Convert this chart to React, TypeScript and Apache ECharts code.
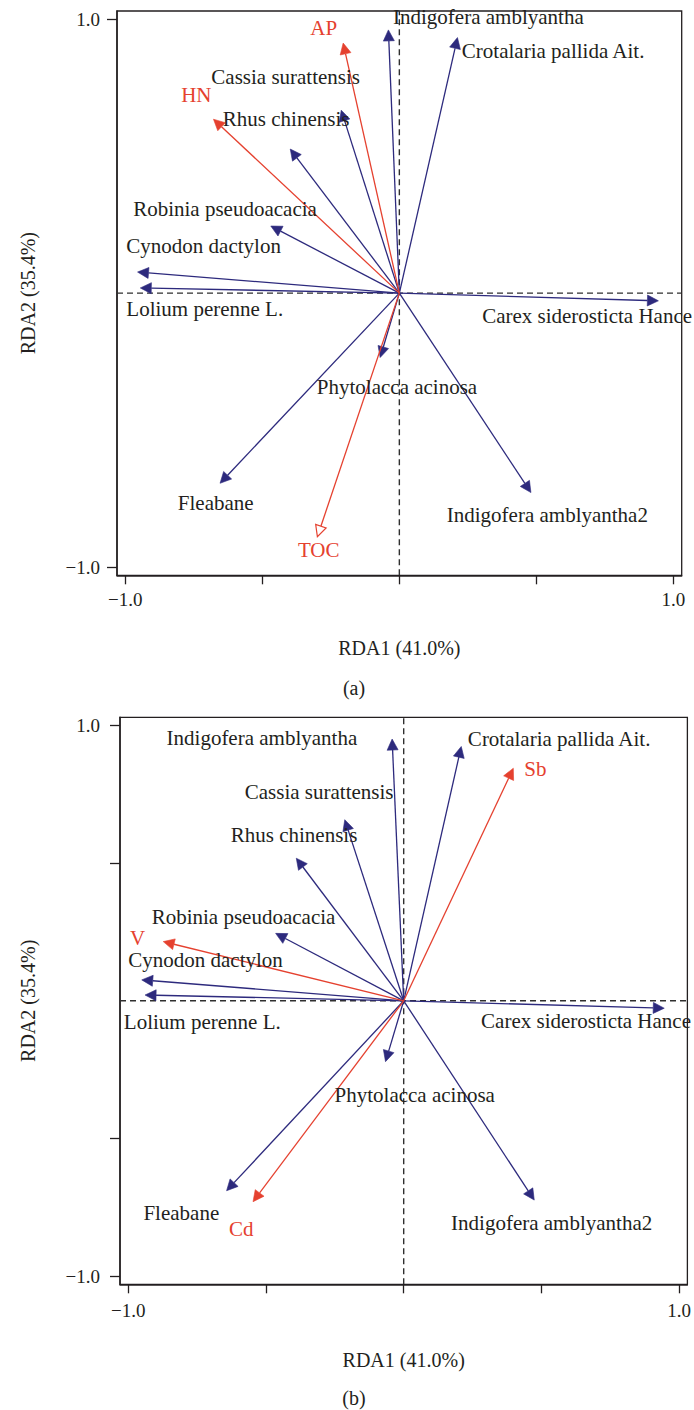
import React, { useEffect, useRef } from 'react';
import * as echarts from 'echarts';

// ---------- data ----------
const species = [
  'Indigofera amblyantha',
  'Crotalaria pallida Ait.',
  'Cassia surattensis',
  'Rhus chinensis',
  'Robinia pseudoacacia',
  'Cynodon dactylon',
  'Lolium perenne L.',
  'Carex siderosticta Hance',
  'Phytolacca acinosa',
  'Indigofera amblyantha2',
  'Fleabane',
];
// panel (a) species scores
const speciesRDA1A = [-0.04, 0.212, -0.212, -0.398, -0.469, -0.955, -0.945, 0.945, -0.07, 0.48, -0.654];
const speciesRDA2A = [0.961, 0.933, 0.668, 0.526, 0.245, 0.077, 0.019, -0.028, -0.235, -0.728, -0.694];
// panel (b) species scores
const speciesRDA1B = [-0.042, 0.209, -0.214, -0.39, -0.465, -0.951, -0.939, 0.946, -0.066, 0.474, -0.643];
const speciesRDA2B = [0.951, 0.924, 0.658, 0.518, 0.245, 0.076, 0.021, -0.027, -0.221, -0.724, -0.69];

// environmental factors
const envA = ['AP', 'HN', 'TOC'];
const envRDA1A = [-0.205, -0.678, -0.299];
const envRDA2A = [0.913, 0.635, -0.889];
const envB = ['Sb', 'V', 'Cd'];
const envRDA1B = [0.398, -0.873, -0.547];
const envRDA2B = [0.845, 0.215, -0.73];
const openHeadFactors = ['TOC'];

const axisTickValues = [-1, -0.5, 0, 0.5, 1];
const axisLabelValues = [-1, 1];
const yTickValuesA = [-1, 1];
const yTickValuesB = [-1, -0.5, 0.5, 1];
const xTitle = 'RDA1 (41.0%)';
const yTitle = 'RDA2 (35.4%)';
const captions = ['(a)', '(b)'];

// ---------- layout (label anchors, data units: left edge / vertical middle) ----------
const speciesLabelAtA = [
  [-0.023, 1.008], [0.228, 0.883], [-0.686, 0.788], [-0.644, 0.635], [-0.971, 0.306],
  [-0.996, 0.171], [-0.996, -0.059], [0.302, -0.084], [-0.301, -0.344], [0.173, -0.811], [-0.808, -0.767],
];
const envLabelAtA = [[-0.325, 0.967], [-0.796, 0.724], [-0.37, -0.939]];
const speciesLabelAtB = [
  [-0.861, 0.954], [0.233, 0.951], [-0.577, 0.76], [-0.628, 0.603], [-0.915, 0.306],
  [-1.0, 0.148], [-1.016, -0.076], [0.281, -0.072], [-0.251, -0.343], [0.172, -0.809], [-0.945, -0.772],
];
const envLabelAtB = [[0.438, 0.842], [-0.994, 0.227], [-0.634, -0.83]];

const LIM = 1.03;
const BLUE = '#2d2a7d';
const RED = '#e5412f';
const INK = '#231f20';
const FONT = "'Liberation Serif', serif";

function fmt(v: number) {
  return v < 0 ? '\u2212' + Math.abs(v).toFixed(1) : v.toFixed(1);
}

function arrowRender(color: string, names: string[]) {
  return (params: any, api: any) => {
    const o = api.coord([0, 0]);
    const t = api.coord([api.value(0), api.value(1)]);
    const name = names[params.dataIndex] || '';
    const open = openHeadFactors.indexOf(name) >= 0;
    const dx = t[0] - o[0];
    const dy = t[1] - o[1];
    const len = Math.hypot(dx, dy) || 1;
    const ux = dx / len;
    const uy = dy / len;
    const hl = 11;
    const hw = 5.5;
    const bx = t[0] - ux * hl;
    const by = t[1] - uy * hl;
    const px = -uy;
    const py = ux;
    return {
      type: 'group',
      children: [
        {
          type: 'line',
          shape: { x1: o[0], y1: o[1], x2: bx, y2: by },
          style: { stroke: color, lineWidth: 1.3 },
        },
        {
          type: 'polygon',
          shape: { points: [[t[0], t[1]], [bx + px * hw, by + py * hw], [bx - px * hw, by - py * hw]] },
          style: { fill: open ? '#ffffff' : color, stroke: color, lineWidth: open ? 1.2 : 0.6 },
        },
      ],
    };
  };
}

function labelRender(color: string, names: string[]) {
  return (params: any, api: any) => {
    const p = api.coord([api.value(0), api.value(1)]);
    return {
      type: 'text',
      x: p[0],
      y: p[1],
      style: {
        text: names[params.dataIndex],
        fill: color,
        fontFamily: 'Liberation Serif',
        fontSize: 21,
        lineHeight: 16,
        align: 'left',
        verticalAlign: 'middle',
      },
    };
  };
}

function axisPair(idx: number, yTicks: number[], yLabelMargin: number, xLabelMargin: number, xNameGap: number, yNameGap: number) {
  const x = {
    type: 'value',
    gridIndex: idx,
    min: -LIM,
    max: LIM,
    name: xTitle,
    nameLocation: 'middle',
    nameGap: xNameGap,
    nameTextStyle: { fontFamily: FONT, fontSize: 20, color: INK },
    axisLine: { show: true, onZero: false, lineStyle: { color: INK, width: 1.5 } },
    axisTick: { show: true, length: 9, customValues: axisTickValues, lineStyle: { color: INK, width: 1.3 } },
    axisLabel: {
      show: true,
      customValues: axisLabelValues,
      formatter: (v: number) => fmt(v),
      margin: xLabelMargin,
      fontFamily: FONT,
      fontSize: 19,
      color: INK,
    },
    splitLine: { show: false },
  };
  const y = {
    type: 'value',
    gridIndex: idx,
    min: -LIM,
    max: LIM,
    name: yTitle,
    nameLocation: 'middle',
    nameGap: yNameGap,
    nameTextStyle: { fontFamily: FONT, fontSize: 20, color: INK },
    axisLine: { show: true, onZero: false, lineStyle: { color: INK, width: 1.5 } },
    axisTick: { show: true, length: 10, customValues: yTicks, lineStyle: { color: INK, width: 1.3 } },
    axisLabel: {
      show: true,
      customValues: axisLabelValues,
      formatter: (v: number) => fmt(v),
      margin: yLabelMargin,
      fontFamily: FONT,
      fontSize: 19,
      color: INK,
    },
    splitLine: { show: false },
  };
  return { x, y };
}

function panelSeries(
  idx: number,
  rda1: number[],
  rda2: number[],
  env: string[],
  env1: number[],
  env2: number[],
  spLabels: number[][],
  envLabels: number[][]
) {
  const dash = {
    color: '#2f2f2f',
    width: 1.4,
    type: [6, 4],
  };
  return [
    {
      type: 'line',
      xAxisIndex: idx,
      yAxisIndex: idx,
      data: [[0, -LIM], [0, LIM]],
      symbol: 'none',
      silent: true,
      lineStyle: dash,
      z: 1,
    },
    {
      type: 'line',
      xAxisIndex: idx,
      yAxisIndex: idx,
      data: [[-LIM, 0], [LIM, 0]],
      symbol: 'none',
      silent: true,
      lineStyle: dash,
      z: 1,
    },
    {
      type: 'custom',
      name: 'species' + idx,
      xAxisIndex: idx,
      yAxisIndex: idx,
      clip: false,
      silent: true,
      renderItem: arrowRender(BLUE, species),
      data: species.map((n, i) => [rda1[i], rda2[i]]),
      z: 3,
    },
    {
      type: 'custom',
      name: 'env' + idx,
      xAxisIndex: idx,
      yAxisIndex: idx,
      clip: false,
      silent: true,
      renderItem: arrowRender(RED, env),
      data: env.map((n, i) => [env1[i], env2[i]]),
      z: 4,
    },
    {
      type: 'custom',
      name: 'speciesLabels' + idx,
      xAxisIndex: idx,
      yAxisIndex: idx,
      clip: false,
      silent: true,
      renderItem: labelRender(INK, species),
      data: species.map((n, i) => spLabels[i]),
      z: 5,
    },
    {
      type: 'custom',
      name: 'envLabels' + idx,
      xAxisIndex: idx,
      yAxisIndex: idx,
      clip: false,
      silent: true,
      renderItem: labelRender(RED, env),
      data: env.map((n, i) => envLabels[i]),
      z: 5,
    },
  ];
}

export default function App() {
  const ref = useRef<HTMLDivElement>(null);
  useEffect(() => {
    if (!ref.current) return;
    const chart = echarts.init(ref.current, undefined, { renderer: 'svg' });
    const a = axisPair(0, yTickValuesA, 17, 15, 63, 79);
    const b = axisPair(1, yTickValuesB, 20, 17, 66, 82);
    chart.setOption({
      animation: false,
      backgroundColor: '#ffffff',
      textStyle: { fontFamily: FONT },
      grid: [
        { left: 117, top: 11, width: 564.7, height: 564.3, show: true, borderColor: INK, borderWidth: 1.3, backgroundColor: 'transparent' },
        { left: 120, top: 717.3, width: 568.3, height: 567, show: true, borderColor: INK, borderWidth: 1.3, backgroundColor: 'transparent' },
      ],
      xAxis: [a.x, b.x],
      yAxis: [a.y, b.y],
      graphic: [
        {
          type: 'text',
          x: 354,
          y: 688,
          style: { text: captions[0], fontFamily: 'Liberation Serif', fontSize: 20, fill: INK, align: 'center', verticalAlign: 'middle' },
        },
        {
          type: 'text',
          x: 354,
          y: 1398,
          style: { text: captions[1], fontFamily: 'Liberation Serif', fontSize: 20, fill: INK, align: 'center', verticalAlign: 'middle' },
        },
      ],
      series: [
        ...panelSeries(0, speciesRDA1A, speciesRDA2A, envA, envRDA1A, envRDA2A, speciesLabelAtA, envLabelAtA),
        ...panelSeries(1, speciesRDA1B, speciesRDA2B, envB, envRDA1B, envRDA2B, speciesLabelAtB, envLabelAtB),
      ],
    });
    return () => chart.dispose();
  }, []);
  return (
    <div
      ref={ref}
      style={{ position: 'absolute', left: 0, top: 0, width: 694, height: 1410, background: '#fff' }}
    />
  );
}
